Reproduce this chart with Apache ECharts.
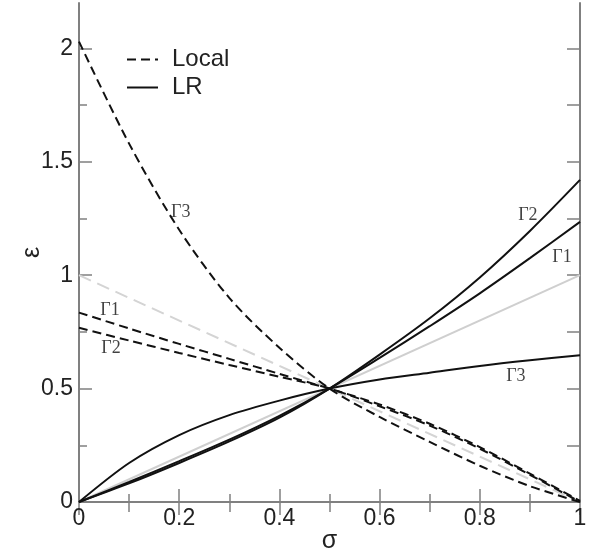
<!DOCTYPE html>
<html>
<head>
<meta charset="utf-8">
<script src="https://cdn.jsdelivr.net/npm/echarts@6/dist/echarts.min.js"></script>
<style>
html,body{margin:0;padding:0;background:#fff;}
#c{width:600px;height:556px;}
</style>
</head>
<body>
<div id="c"></div>
<script>
// ---- data ----
const sigma = [0, 0.1, 0.2, 0.3, 0.4, 0.5, 0.6, 0.7, 0.8, 0.9, 1.0];
// Local (dashed)
const localG1 = [0.835, 0.765, 0.697, 0.631, 0.565, 0.5, 0.43, 0.345, 0.242, 0.125, 0.005];
const localG2 = [0.768, 0.712, 0.657, 0.604, 0.552, 0.5, 0.422, 0.337, 0.235, 0.12, 0.0];
const localG3 = [2.03, 1.58, 1.20, 0.90, 0.68, 0.5, 0.375, 0.265, 0.16, 0.07, 0.0];
// LR (solid)
const lrG1 = [0, 0.088, 0.18, 0.275, 0.38, 0.5, 0.635, 0.775, 0.92, 1.075, 1.235];
const lrG2 = [0, 0.082, 0.172, 0.267, 0.372, 0.5, 0.65, 0.81, 0.99, 1.195, 1.42];
const lrG3 = [0, 0.172, 0.295, 0.383, 0.447, 0.5, 0.54, 0.57, 0.60, 0.625, 0.647];
// light reference lines
const refX = [0, 1];
const refUp = [0, 1];
const refDown = [1, 0];
// tick values
const yMajor = [0, 0.5, 1, 1.5, 2];
const yMinor = [0.25, 0.75, 1.25, 1.75];
const yAll = [0, 0.25, 0.5, 0.75, 1, 1.25, 1.5, 1.75, 2];
// curve labels [sigma, epsilon, text]
const curveLabels = [
  [0.203, 1.277, 'Γ3'],
  [0.062, 0.846, 'Γ1'],
  [0.064, 0.678, 'Γ2'],
  [0.896, 1.264, 'Γ2'],
  [0.964, 1.079, 'Γ1'],
  [0.872, 0.555, 'Γ3']
];

const pairs = (xs, ys) => xs.map((x, i) => [x, ys[i]]);
const AX = '#808080';
const TXT = '#222';
const SANS = 'Liberation Sans, Arial, sans-serif';
const SERIF = 'Liberation Serif, Times New Roman, serif';

function lineSeries(name, ys, dashed) {
  return {
    name: name, type: 'line', data: pairs(sigma, ys), smooth: 0.3,
    symbol: 'none', showSymbol: false, silent: true, z: 3,
    itemStyle: { color: '#111' },
    lineStyle: { color: '#111', width: 2, type: dashed ? [9, 5] : 'solid' }
  };
}

const chart = echarts.init(document.getElementById('c'), null, { renderer: 'canvas' });
chart.setOption({
  animation: false,
  backgroundColor: '#fff',
  grid: { left: 79, right: 20, top: 3, bottom: 54, containLabel: false, outerBoundsMode: 'none' },
  legend: {
    data: ['Local', 'LR'], orient: 'vertical', left: 121, top: 42,
    itemWidth: 31, itemHeight: 14, itemGap: 3,
    itemStyle: { opacity: 0 },
    textStyle: { fontSize: 24, color: TXT, fontFamily: SANS, lineHeight: 25, padding: [0, 0, 0, 9] },
    selectedMode: false
  },
  xAxis: [
    {
      type: 'value', min: 0, max: 1, interval: 0.2, position: 'bottom',
      axisLine: { show: true, lineStyle: { color: AX, width: 2 } },
      axisTick: { show: true, inside: true, length: 13, lineStyle: { color: AX, width: 1.5 } },
      minorTick: { show: true, splitNumber: 2, length: 8, lineStyle: { color: AX, width: 1.5 } },
      splitLine: { show: false }, minorSplitLine: { show: false },
      axisLabel: { fontSize: 23, color: TXT, fontFamily: SANS, margin: 5 },
      name: 'σ', nameLocation: 'middle', nameGap: 27, nameMoveOverlap: false,
      nameTextStyle: { fontSize: 25, color: TXT, fontFamily: SANS }
    },
    {
      type: 'value', min: 0, max: 1, interval: 0.2, position: 'top',
      axisLine: { show: true, lineStyle: { color: AX, width: 2 } },
      axisTick: { show: true, inside: true, length: 13, lineStyle: { color: AX, width: 1.5 } },
      minorTick: { show: true, splitNumber: 2, length: 10, lineStyle: { color: AX, width: 1.5 } },
      splitLine: { show: false }, axisLabel: { show: false }
    }
  ],
  yAxis: [
    {
      type: 'value', min: 0, max: 2.2, interval: 0.5, position: 'left',
      axisLine: { show: true, lineStyle: { color: AX, width: 2 } },
      axisTick: { show: true, inside: true, length: 13, customValues: yMajor, lineStyle: { color: AX, width: 1.5 } },
      splitLine: { show: false },
      axisLabel: { fontSize: 23, color: TXT, fontFamily: SANS, margin: 6, customValues: yMajor },
      name: 'ε', nameLocation: 'middle', nameGap: 34, nameRotate: 90, nameMoveOverlap: false,
      nameTextStyle: { fontSize: 25, color: TXT, fontFamily: SANS }
    },
    {
      type: 'value', min: 0, max: 2.2, position: 'left',
      axisLine: { show: false },
      axisTick: { show: true, inside: true, length: 8, customValues: yMinor, lineStyle: { color: AX, width: 1.5 } },
      splitLine: { show: false }, axisLabel: { show: false }
    },
    {
      type: 'value', min: 0, max: 2.2, position: 'right',
      axisLine: { show: true, lineStyle: { color: AX, width: 2 } },
      axisTick: { show: true, inside: true, length: 13, customValues: yAll, lineStyle: { color: AX, width: 1.5 } },
      splitLine: { show: false }, axisLabel: { show: false }
    }
  ],
  series: [
    { name: 'ref-up', type: 'line', data: pairs(refX, refUp), symbol: 'none', silent: true, z: 2,
      lineStyle: { color: '#cfcfcf', width: 2 } },
    { name: 'ref-down', type: 'line', data: pairs(refX, refDown), symbol: 'none', silent: true, z: 2,
      lineStyle: { color: '#d4d4d4', width: 2, type: [13, 7] } },
    lineSeries('Local', localG1, true),
    lineSeries('Local', localG2, true),
    lineSeries('Local', localG3, true),
    lineSeries('LR', lrG1, false),
    lineSeries('LR', lrG2, false),
    lineSeries('LR', lrG3, false),
    {
      name: 'curve-labels', type: 'scatter', symbolSize: 0, silent: true, z: 5,
      data: curveLabels.map(d => ({ value: [d[0], d[1]], name: d[2] })),
      label: { show: true, position: 'inside', formatter: '{b}', fontSize: 18,
               fontFamily: SERIF, color: '#111' }
    }
  ]
});
</script>
</body>
</html>
